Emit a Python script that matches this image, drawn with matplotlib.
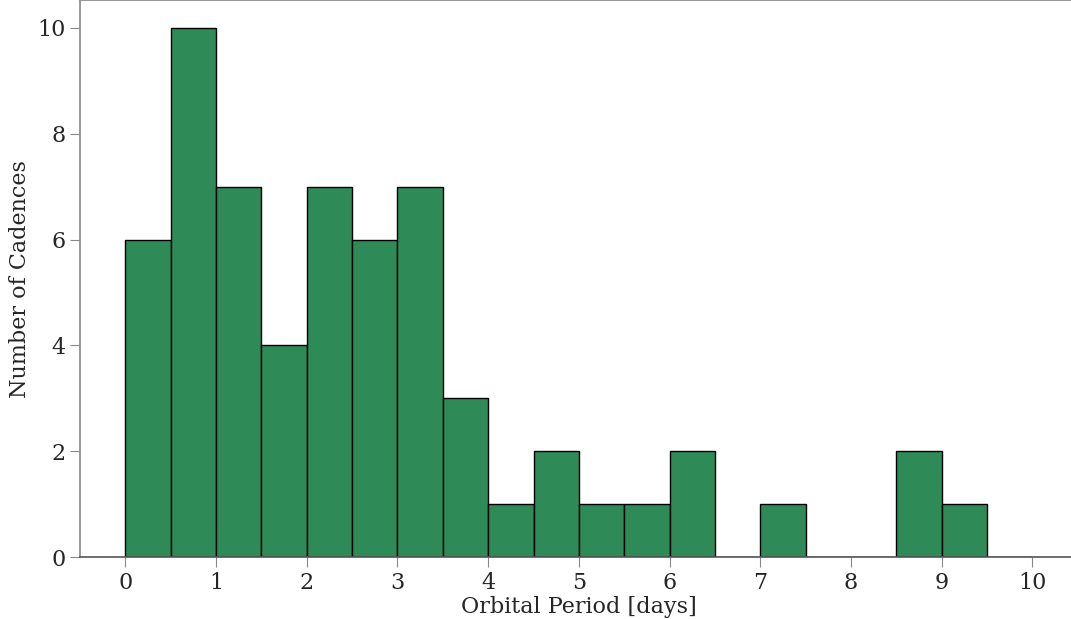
import matplotlib
matplotlib.use("Agg")
import matplotlib.pyplot as plt
import numpy as np

bin_edges = np.arange(0, 10.01, 0.5)
counts = [6, 10, 7, 4, 7, 6, 7, 3, 1, 2, 1, 1, 2, 0, 1, 0, 0, 2, 1, 0]
xticks = list(range(0, 11))
yticks = [0, 2, 4, 6, 8, 10]

plt.rcParams['font.family'] = ['DejaVu Serif']
W, H = 1071, 619
fig = plt.figure(figsize=(W / 100, H / 100), dpi=100)
ax = fig.add_axes([80 / W, 62 / H, 997.7 / W, 556.6 / H])

ax.hist(bin_edges[:-1], bins=bin_edges, weights=counts, color='#2e8b57',
        edgecolor='black', linewidth=1.0)
ax.set_xlim(-0.5, 10.5)
ax.set_ylim(0, 10.52)
ax.set_xticks(xticks)
ax.set_yticks(yticks)
for s in ax.spines.values():
    s.set_color('#888888')
    s.set_linewidth(1.2)
ax.spines['right'].set_visible(False)
ax.spines['bottom'].set_color('#555555')
ax.tick_params(axis='both', labelsize=16, length=7, color='#888888', labelcolor='#262626')
ax.set_xlabel('Orbital Period [days]', fontsize=16, color='#262626', labelpad=2)
ax.set_ylabel('Number of Cadences', fontsize=16, color='#262626')

fig.savefig('out.png', dpi=100)
